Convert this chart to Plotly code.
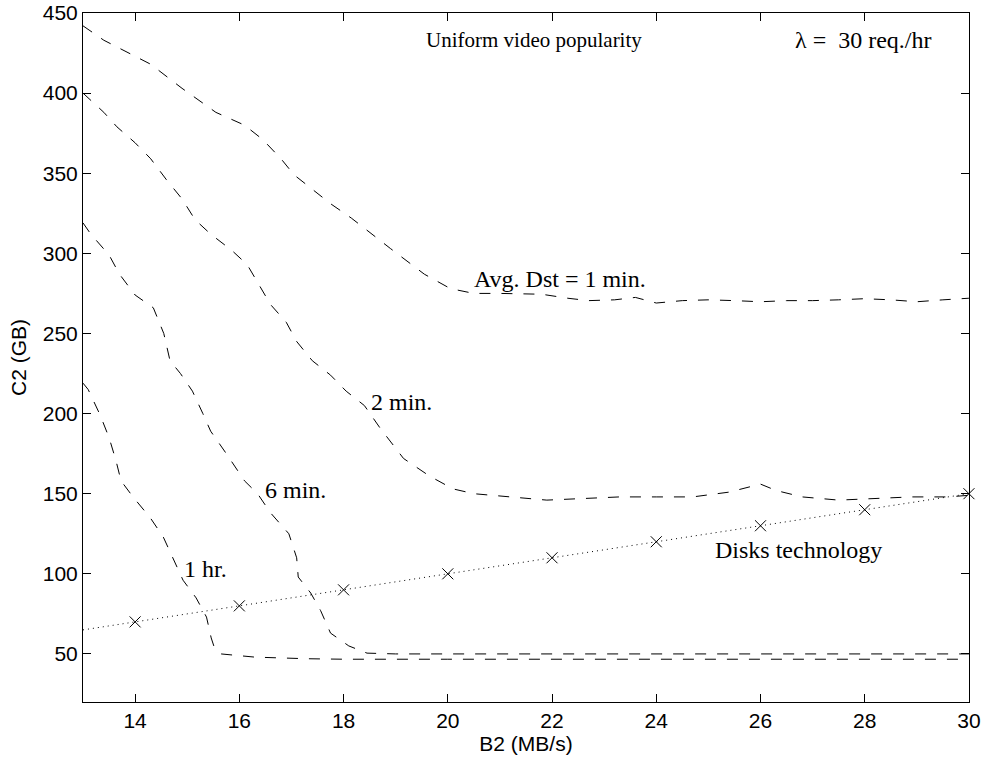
import plotly.graph_objects as go

# Iso-delay contours: C2 (GB) needed vs. B2 (MB/s)
b2_1min = [13.0, 13.4, 14.3, 14.9, 15.55, 16.1, 16.45, 16.8, 17.05, 17.4, 17.75, 18.15, 18.5,
           18.9, 19.55, 20.05, 20.5, 21.0, 21.8, 22.3, 22.7, 23.2, 23.6, 24.0, 24.5, 25.0, 25.5,
           26.0, 26.5, 27.0, 27.5, 28.0, 28.5, 29.0, 29.5, 30.0]
c2_1min = [442, 433, 418, 403, 388, 380, 371, 359, 349, 340, 331, 322, 313,
           303, 287, 278, 275, 275, 274.5, 272, 270.5, 271, 272.5, 269, 270.5, 271, 270.5,
           269.8, 270.5, 270.5, 271, 271.7, 271, 269.8, 271, 272]

b2_2min = [13.0, 13.4, 13.65, 14.0, 14.3, 14.6, 14.9, 15.15, 15.45, 15.85, 16.15, 16.35, 16.6,
           16.9, 17.1, 17.4, 17.75, 18.05, 18.4, 18.7, 19.15, 19.65, 20.1, 20.5, 21.2, 21.9,
           22.6, 23.3, 24.0, 24.7, 25.4, 26.0, 26.3, 26.8, 27.5, 28.2, 28.9, 29.6, 30.0]
c2_2min = [400, 388, 379, 369, 359, 346, 334, 321, 312, 302, 293, 282, 268,
           257, 245, 233, 224, 214, 205, 191, 172, 161, 153, 150, 148, 146,
           147, 148, 148, 148, 151, 156, 152, 148, 146, 147, 148, 148, 149]

b2_6min = [13.0, 13.15, 13.5, 13.7, 14.0, 14.35, 14.55, 14.67, 14.87, 15.1, 15.3, 15.45, 15.75,
           16.1, 16.35, 16.6, 16.95, 17.1, 17.13, 17.37, 17.56, 17.75, 18.1, 18.45, 19.0, 20.0,
           22.0, 24.0, 26.0, 28.0, 30.0]
c2_6min = [319, 312, 299, 287, 274, 266, 250, 233, 225, 214, 200, 189, 175,
           158, 150, 138, 125, 110, 98, 88, 77, 63, 55, 50.5, 50, 50,
           50, 50, 50, 50, 50]

b2_1hr = [13.0, 13.1, 13.33, 13.5, 13.63, 13.73, 13.96, 14.29, 14.54, 14.73, 14.92, 15.17, 15.37,
          15.46, 15.52, 15.65, 16.3, 17.3, 18.0, 20.0, 22.0, 24.0, 26.0, 28.0, 30.0]
c2_1hr = [219, 215, 199, 185, 171, 158, 148, 135, 123, 110, 96, 85, 73,
          60, 54, 50, 48, 47, 46.7, 46.7, 46.7, 46.7, 46.7, 46.7, 46.7]

# Disks technology: capacity vs. bandwidth
disk_b2 = [14, 16, 18, 20, 22, 24, 26, 28, 30]
disk_c2 = [70, 80, 90, 100, 110, 120, 130, 140, 150]
disk_line_b2 = [13] + disk_b2
disk_line_c2 = [65] + disk_c2

x_ticks = [14, 16, 18, 20, 22, 24, 26, 28, 30]
y_ticks = [50, 100, 150, 200, 250, 300, 350, 400, 450]

SERIF = "Liberation Serif, Times New Roman, serif"
SANS = "Liberation Sans, Arial, sans-serif"
dash = "11px,11px"

fig = go.Figure()
for xs, ys in [(b2_1min, c2_1min), (b2_2min, c2_2min), (b2_6min, c2_6min), (b2_1hr, c2_1hr)]:
    fig.add_trace(go.Scatter(x=xs, y=ys, mode="lines",
                             line=dict(color="black", width=1, dash=dash),
                             showlegend=False, hoverinfo="skip", cliponaxis=False))

fig.add_trace(go.Scatter(x=disk_line_b2, y=disk_line_c2, mode="lines",
                         line=dict(color="black", width=1, dash="1px,4px"),
                         showlegend=False, hoverinfo="skip"))
fig.add_trace(go.Scatter(x=disk_b2, y=disk_c2, mode="markers",
                         marker=dict(symbol="x-thin", size=11, color="black",
                                     line=dict(color="black", width=1)),
                         showlegend=False, hoverinfo="skip", cliponaxis=False))

labels = [
    ("Uniform video popularity", 21.65, 433, 21),
    ("λ = \u00a030 req./hr", 27.96, 433, 24),
    ("Avg. Dst = 1 min.", 22.15, 284, 24),
    ("2 min.", 19.12, 207, 24),
    ("6 min.", 17.07, 152.5, 24),
    ("1 hr.", 15.36, 102.8, 24),
    ("Disks technology", 26.72, 114.6, 24),
]
for text, x, y, size in labels:
    fig.add_annotation(x=x, y=y, text=text, showarrow=False, xanchor="center", yanchor="middle",
                       font=dict(family=SERIF, size=size, color="black"))

axis_common = dict(showline=True, mirror="ticks", linecolor="black", linewidth=1,
                   ticks="inside", ticklen=8, tickcolor="black", tickwidth=1,
                   showgrid=False, zeroline=False, automargin=False,
                   ticklabeloverflow="allow",
                   tickfont=dict(family=SANS, size=21, color="black"))

fig.update_xaxes(range=[13, 30.001], tickvals=x_ticks,
                 title=dict(text="B2 (MB/s)", font=dict(family=SANS, size=21, color="black"), standoff=4),
                 **axis_common)
fig.update_yaxes(range=[20, 450.01], tickvals=y_ticks,
                 title=dict(text="C2 (GB)", font=dict(family=SANS, size=21, color="black"), standoff=10),
                 **axis_common)

fig.update_layout(width=985, height=765, margin=dict(l=83, r=16, t=13, b=63),
                  paper_bgcolor="white", plot_bgcolor="white")

fig.write_html("out.html")
